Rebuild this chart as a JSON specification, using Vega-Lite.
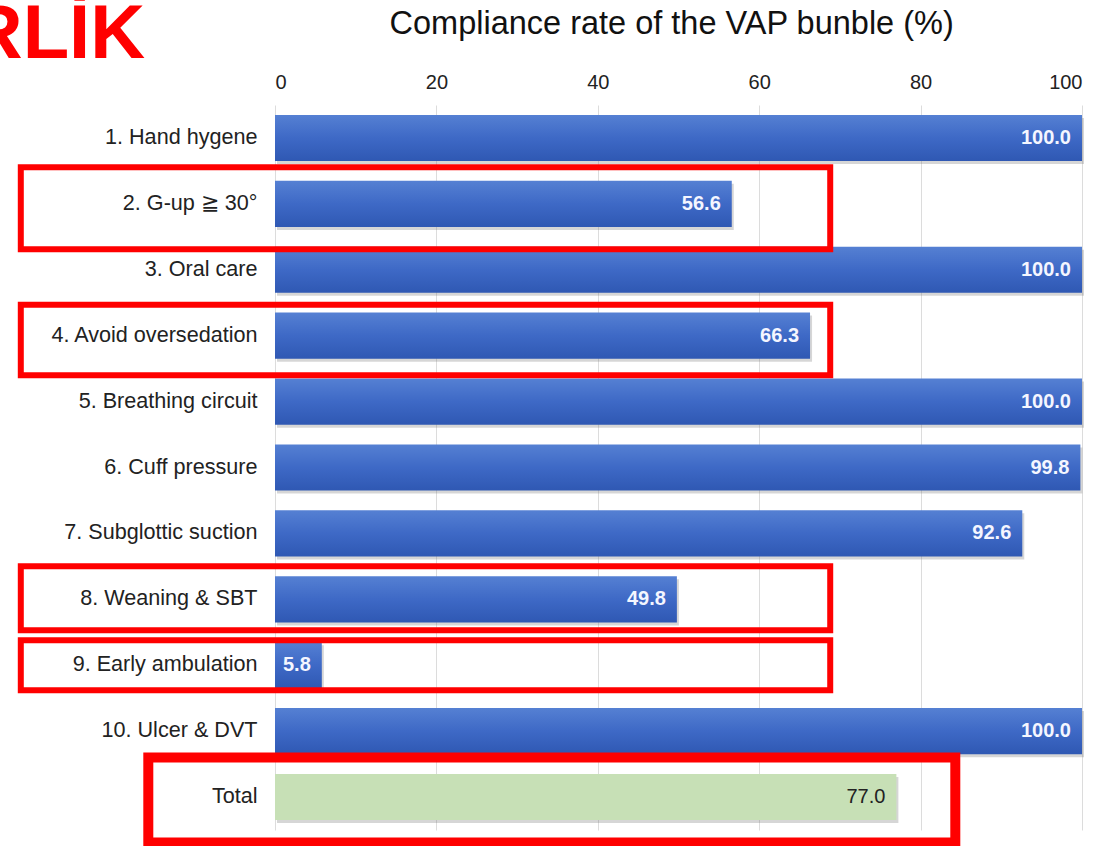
{
  "$schema": "https://vega.github.io/schema/vega-lite/v6.json",
  "autosize": {"type": "none"},
  "width": 807,
  "height": 725,
  "padding": {"left": 275, "top": 105, "right": 20, "bottom": 16},
  "background": "white",
  "config": {
    "view": {"stroke": null},
    "font": "Liberation Sans"
  },
  "datasets": {
    "bars": [
      {"item": "1. Hand hygene", "rate": 100.0, "group": "item"},
      {"item": "2. G-up ≧ 30°", "rate": 56.6, "group": "item"},
      {"item": "3. Oral care", "rate": 100.0, "group": "item"},
      {"item": "4. Avoid oversedation", "rate": 66.3, "group": "item"},
      {"item": "5. Breathing circuit", "rate": 100.0, "group": "item"},
      {"item": "6. Cuff pressure", "rate": 99.8, "group": "item"},
      {"item": "7. Subglottic suction", "rate": 92.6, "group": "item"},
      {"item": "8. Weaning & SBT", "rate": 49.8, "group": "item"},
      {"item": "9. Early ambulation", "rate": 5.8, "group": "item"},
      {"item": "10. Ulcer & DVT", "rate": 100.0, "group": "item"},
      {"item": "Total", "rate": 77.0, "group": "total"}
    ],
    "boxes": [
      {"x1": -31.5, "x2": 68.8, "r1": 0.945, "r2": 2.19},
      {"x1": -31.5, "x2": 68.8, "r1": 3.03, "r2": 4.1},
      {"x1": -31.5, "x2": 68.8, "r1": 7.0, "r2": 7.97},
      {"x1": -31.5, "x2": 68.8, "r1": 8.12, "r2": 8.88}
    ],
    "totalbox": [
      {"x1": -15.7, "x2": 84.3, "r1": 9.9, "r2": 11.19}
    ],
    "logo": [
      {"x": -16.1, "r": -0.71, "label": "RLİK"}
    ],
    "heading": [
      {"x": 49.15, "r": -1.07, "label": "Compliance rate of the VAP bunble (%)"}
    ]
  },
  "resolve": {"scale": {"y": "independent"}, "axis": {"y": "independent"}},
  "layer": [
    {
      "layer": [
        {
          "data": {"name": "bars"},
          "mark": {"type": "bar", "color": "#777777", "opacity": 0.3, "xOffset": 2, "yOffset": 3},
          "encoding": {
            "y": {
              "field": "item", "type": "nominal", "sort": null,
              "scale": {
                "domain": ["1. Hand hygene", "2. G-up ≧ 30°", "3. Oral care", "4. Avoid oversedation", "5. Breathing circuit", "6. Cuff pressure", "7. Subglottic suction", "8. Weaning & SBT", "9. Early ambulation", "10. Ulcer & DVT", "Total"],
                "paddingInner": 0.3, "paddingOuter": 0.15
              },
              "axis": {
                "title": null, "ticks": false, "domain": false, "grid": false,
                "labelFontSize": 21.6, "labelColor": "#222", "labelPadding": 18,
                "labelFont": "Liberation Sans", "labelLimit": 400
              }
            },
            "x": {
              "field": "rate", "type": "quantitative",
              "scale": {"domain": [0, 100], "nice": false},
              "axis": {
                "orient": "top", "title": null, "values": [0, 20, 40, 60, 80, 100],
                "grid": true, "gridColor": "#dcdcdc", "ticks": false, "domain": false,
                "labelFontSize": 20, "labelColor": "#222", "labelPadding": 13,
                "labelFont": "Liberation Sans"
              }
            }
          }
        },
        {
          "data": {"name": "bars"},
          "transform": [{"filter": "datum.group === 'item'"}],
          "mark": {
            "type": "bar",
            "color": {
              "gradient": "linear",
              "x1": 0, "y1": 0, "x2": 0, "y2": 1,
              "stops": [
                {"offset": 0, "color": "#5580d3"},
                {"offset": 0.5, "color": "#3e69c6"},
                {"offset": 1, "color": "#2f58b3"}
              ]
            }
          },
          "encoding": {
            "y": {"field": "item", "type": "nominal", "sort": null},
            "x": {"field": "rate", "type": "quantitative", "scale": {"domain": [0, 100]}}
          }
        },
        {
          "data": {"name": "bars"},
          "transform": [{"filter": "datum.group === 'total'"}],
          "mark": {"type": "bar", "color": "#c7e0b6"},
          "encoding": {
            "y": {"field": "item", "type": "nominal", "sort": null},
            "x": {"field": "rate", "type": "quantitative", "scale": {"domain": [0, 100]}}
          }
        },
        {
          "data": {"name": "bars"},
          "transform": [{"filter": "datum.group === 'item'"}],
          "mark": {"type": "text", "align": "right", "baseline": "middle", "dx": -11, "fontSize": 20, "fontWeight": "bold", "font": "Liberation Sans", "color": "#f4f6ff"},
          "encoding": {
            "y": {"field": "item", "type": "nominal", "sort": null},
            "x": {"field": "rate", "type": "quantitative", "scale": {"domain": [0, 100]}},
            "text": {"field": "rate", "type": "quantitative", "format": ".1f"}
          }
        },
        {
          "data": {"name": "bars"},
          "transform": [{"filter": "datum.group === 'total'"}],
          "mark": {"type": "text", "align": "right", "baseline": "middle", "dx": -11, "fontSize": 20, "font": "Liberation Sans", "color": "#222222"},
          "encoding": {
            "y": {"field": "item", "type": "nominal", "sort": null},
            "x": {"field": "rate", "type": "quantitative", "scale": {"domain": [0, 100]}},
            "text": {"field": "rate", "type": "quantitative", "format": ".1f"}
          }
        }
      ]
    },
    {
      "layer": [
        {
          "data": {"name": "boxes"},
          "mark": {"type": "rect", "fill": null, "fillOpacity": 0, "stroke": "#ff0000", "strokeWidth": 6, "clip": false},
          "encoding": {
            "x": {"field": "x1", "type": "quantitative", "scale": {"domain": [0, 100]}},
            "x2": {"field": "x2"},
            "y": {"field": "r1", "type": "quantitative", "scale": {"domain": [0, 11], "reverse": true, "nice": false, "zero": false}, "axis": null},
            "y2": {"field": "r2"}
          }
        },
        {
          "data": {"name": "totalbox"},
          "mark": {"type": "rect", "fill": null, "fillOpacity": 0, "stroke": "#ff0000", "strokeWidth": 10, "clip": false},
          "encoding": {
            "x": {"field": "x1", "type": "quantitative", "scale": {"domain": [0, 100]}},
            "x2": {"field": "x2"},
            "y": {"field": "r1", "type": "quantitative"},
            "y2": {"field": "r2"}
          }
        },
        {
          "data": {"name": "logo"},
          "mark": {"type": "text", "align": "right", "baseline": "alphabetic", "fontSize": 76, "fontWeight": "bold", "color": "#ff0000", "font": "Liberation Sans", "clip": false},
          "encoding": {
            "x": {"field": "x", "type": "quantitative", "scale": {"domain": [0, 100]}},
            "y": {"field": "r", "type": "quantitative"},
            "text": {"field": "label"}
          }
        },
        {
          "data": {"name": "heading"},
          "mark": {"type": "text", "align": "center", "baseline": "alphabetic", "fontSize": 32.5, "color": "#111111", "font": "Liberation Sans", "clip": false},
          "encoding": {
            "x": {"field": "x", "type": "quantitative", "scale": {"domain": [0, 100]}},
            "y": {"field": "r", "type": "quantitative"},
            "text": {"field": "label"}
          }
        }
      ]
    }
  ]
}
